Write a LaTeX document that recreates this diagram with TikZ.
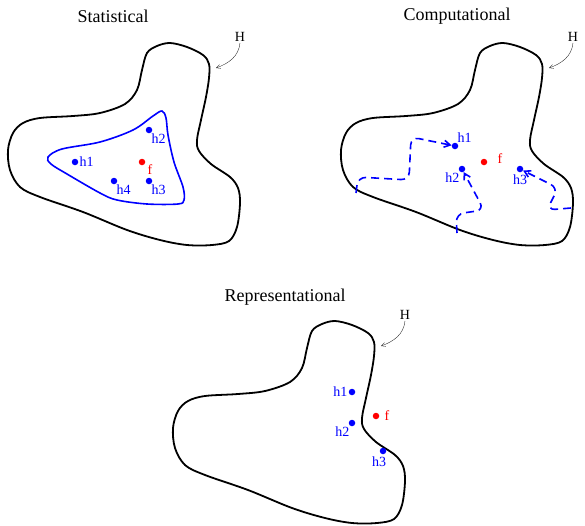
\documentclass[tikz,border=0pt]{standalone}
\usepackage{fontspec}
\setmainfont{Liberation Serif}
\usetikzlibrary{arrows.meta}

\tikzset{
  region/.style={line width=1.8pt, black},
  dot/.style={circle, fill=#1, inner sep=0pt, minimum size=6.5pt},
  lbl/.style={font=\fontsize{14}{16}\selectfont, inner sep=1pt},
  title/.style={font=\fontsize{18}{20}\selectfont},
  walk/.style={blue, line width=1.6pt, dash pattern=on 8pt off 5pt,
    rounded corners=8pt, -{Straight Barb[length=6pt,width=7pt]}},
  pointer/.style={thin, black!80, -{Straight Barb[length=4pt,width=4pt]}},
  % the hypothesis space H
  hspace/.pic={
    \draw[region] plot[smooth cycle, tension=0.55] coordinates {
      (147,53) (157,46) (170,43) (187,47) (203,55) (209,64) (209,78)
      (206,97) (201,120) (197,140) (199,151) (211,164) (230,177)
      (238,188) (240,203) (237,227) (229,241) (212,245) (187,245)
      (160,240) (127,230) (83,212) (40,197) (20,187) (10,170)
      (8,150) (13,133) (23,123) (40,118) (73,116) (100,113)
      (125,104) (137,90) (142,70)};
    \node[lbl] (H) at (240,37) {H};
    \coordinate (Hend) at (216,68);
    \draw[pointer] (H.south) to[out=-95, in=20] (Hend);
  }
}

\begin{document}
\begin{tikzpicture}[x=1pt, y=-1pt]
  \useasboundingbox (0,0) rectangle (585,525);

  % --- Statistical ---
  \begin{scope}
    \node[title] (tstat) at (113,16) {Statistical};
    \pic at (0,0) {hspace};
    \draw[blue, line width=1.6pt] plot[smooth cycle, tension=0.55] coordinates {
      (48,157) (62,149) (100,142) (133,130) (153,116) (162,111)
      (166,118) (168,135) (174,162) (183,187) (184,200) (178,204)
      (147,204) (117,200) (100,193) (67,174) (51,164)};
    \foreach \n/\x/\y in {h1/75/162, h2/149/130, h4/114/181, h3/149/181}
      \node[dot=blue] (s\n) at (\x,\y) {};
    \node[dot=red] (sf) at (142,162) {};
    \node[lbl, blue, anchor=west] (sh1l) at (sh1.east) {h1};
    \node[lbl, blue, anchor=north west] (sh2l) at ([xshift=-1pt]sh2.south east) {h2};
    \node[lbl, blue, anchor=north west] (sh4l) at ([xshift=-1pt]sh4.south east) {h4};
    \node[lbl, blue, anchor=north west] (sh3l) at ([xshift=-1pt]sh3.south east) {h3};
    \node[lbl, red, anchor=north west] (sfl) at ([xshift=2pt,yshift=1pt]sf.south east) {f};
  \end{scope}

  % --- Computational ---
  \begin{scope}[shift={(333,0)}]
    \node[title] (tcomp) at (124,16) {Computational};
    \pic at (0,0) {hspace};
    \node[dot=blue] (ch1) at (122,146) {};
    \node[dot=blue] (ch2) at (129,169) {};
    \node[dot=blue] (ch3) at (187,169) {};
    \node[dot=red] (cf) at (151,162) {};
    \node[lbl, blue, anchor=south west] (ch1l) at ([xshift=-1pt]ch1.north east) {h1};
    \node[lbl, blue, anchor=north east] (ch2l) at ([xshift=1pt]ch2.south west) {h2};
    \node[lbl, blue, anchor=north] (ch3l) at ([yshift=-1pt]ch3.south) {h3};
    \node[lbl, red, anchor=west] (cfl) at ([xshift=9pt,yshift=3pt]cf.east) {f};
    % random walks towards the hypotheses
    \coordinate (w1) at (23,193);
    \coordinate (w2) at (124,233);
    \coordinate (w3) at (238,208);
    \draw[walk] (w1) -- (25,177) -- (76,180) -- (78,137) -- (ch1);
    \draw[walk] (w2) -- (123,214) -- (151,210) -- (ch2);
    \draw[walk] (w3) -- (214,210) -- (225,188) -- (ch3);
  \end{scope}

  % --- Representational ---
  \begin{scope}[shift={(165,278)}]
    \node[title] (trep) at (120,19) {Representational};
    \pic at (0,0) {hspace};
    \node[dot=blue] (rh1) at (187,114) {};
    \node[dot=blue] (rh2) at (187,145) {};
    \node[dot=blue] (rh3) at (218,173) {};
    \node[dot=red] (rf) at (211,138) {};
    \node[lbl, blue, anchor=east] (rh1l) at (rh1.west) {h1};
    \node[lbl, blue, anchor=north east] (rh2l) at ([xshift=1pt]rh2.south west) {h2};
    \node[lbl, blue, anchor=north] (rh3l) at ([xshift=-4pt,yshift=-1pt]rh3.south) {h3};
    \node[lbl, red, anchor=west] (rfl) at ([xshift=4pt]rf.east) {f};
  \end{scope}
\end{tikzpicture}
\end{document}
